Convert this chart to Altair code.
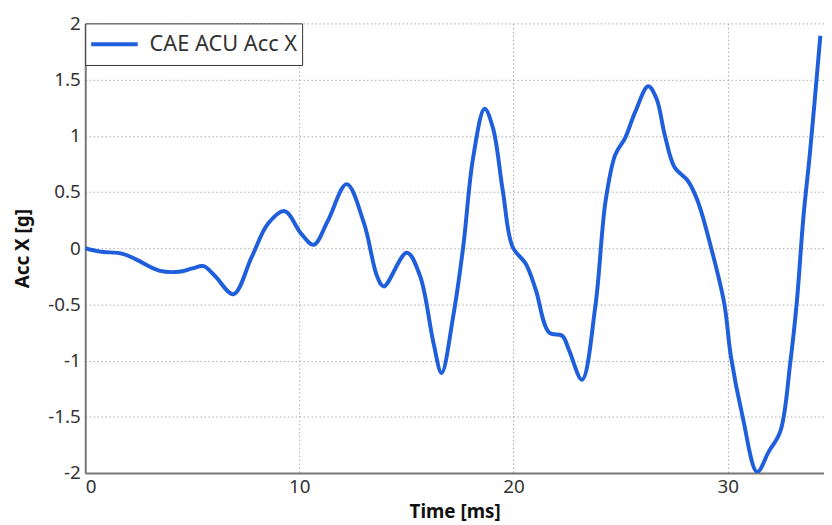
import altair as alt
import pandas as pd

series_name = "CAE ACU Acc X"
time_ms = [0, 0.67, 1.75, 2.37, 3.45, 4.375, 5.0, 5.53, 6.07, 6.92, 7.77, 8.54, 9.31,
           10.08, 10.67, 11.32, 12.21, 13.02, 13.63, 13.94, 15.02, 15.64, 16.26, 16.64,
           17.18, 17.65, 18.11, 18.65, 19.04, 19.5, 19.96, 20.58, 21.04, 21.66, 22.28,
           22.58, 23.2, 23.82, 24.3, 24.75, 25.21, 25.68, 26.29, 26.68, 27.06, 27.52,
           28.14, 28.6, 29.22, 29.84, 30.15, 30.69, 31.38, 31.92, 32.46, 32.93, 33.23,
           33.54, 33.85, 34.33]
acc_x = [0, -0.03, -0.05, -0.1, -0.2, -0.21, -0.18, -0.16, -0.25, -0.41, -0.08, 0.22, 0.33,
         0.13, 0.03, 0.24, 0.57, 0.22, -0.25, -0.34, -0.04, -0.25, -0.84, -1.11,
         -0.61, 0.01, 0.80, 1.24, 1.07, 0.51, 0.01, -0.14, -0.37, -0.75, -0.78,
         -0.9, -1.17, -0.52, 0.42, 0.83, 0.98, 1.21, 1.44, 1.33, 1.01, 0.72,
         0.6, 0.42, 0.01, -0.49, -0.96, -1.49, -1.99, -1.81, -1.63, -1.01, -0.48,
         0.28, 0.86, 1.89]

x_ticks = [0, 10, 20, 30]
y_ticks = [-2, -1.5, -1, -0.5, 0, 0.5, 1, 1.5, 2]

df = pd.DataFrame({"t": time_ms, "v": acc_x, "series": [series_name] * len(time_ms)})

FONT = "Noto Sans"

chart = alt.Chart(df).mark_line(
    strokeWidth=4, interpolate="catmull-rom", clip=True
).encode(
    x=alt.X("t:Q", title="Time [ms]",
            scale=alt.Scale(domain=[0, 34.5], nice=False, zero=False),
            axis=alt.Axis(values=x_ticks, labelFlush=True, labelExpr="'' + datum.value")),
    y=alt.Y("v:Q", title="Acc X [g]",
            scale=alt.Scale(domain=[-2, 2], nice=False),
            axis=alt.Axis(values=y_ticks, labelExpr="'' + datum.value")),
    color=alt.Color("series:N", title=None,
                    scale=alt.Scale(domain=[series_name], range=["#1f5fdc"]),
                    legend=alt.Legend(orient="top-left", offset=0, symbolType="stroke",
                                      symbolSize=2209, symbolStrokeWidth=4,
                                      clipHeight=34,
                                      labelFontSize=22, labelFont=FONT, labelColor="#333",
                                      padding=4, strokeColor="#333", fillColor="white",
                                      labelOffset=10)),
).properties(
    width=746, height=454,
    autosize=alt.AutoSizeParams(type="none"),
    padding={"left": 78, "top": 13, "right": 0, "bottom": 50},
).configure_view(
    stroke=None
).configure_axis(
    labelFont=FONT, titleFont=FONT, labelFontSize=19, titleFontSize=19,
    labelColor="#333", titleColor="#111", titleFontWeight="bold",
    domainColor="#777", domainWidth=2, ticks=False, labelPadding=5,
    gridColor="#aaaaaa", gridDash=[1.5, 2.5], gridWidth=1,
).configure_axisX(
    titlePadding=6
).configure_axisY(
    titlePadding=15
)

chart.save("out.html", embed_options={"renderer": "svg", "actions": False})
